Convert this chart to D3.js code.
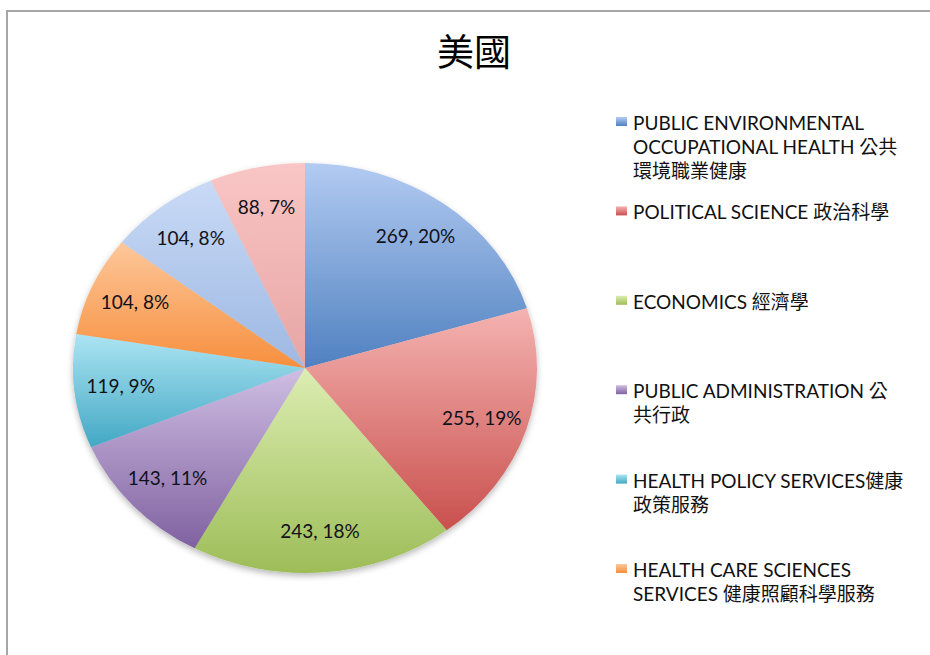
<!DOCTYPE html>
<html>
<head>
<meta charset="utf-8">
<script src="https://cdn.jsdelivr.net/npm/d3@7/dist/d3.min.js"></script>
<style>
  body { margin: 0; background: #fff; }
  text { font-family: Lato, "Noto Sans CJK TC", sans-serif; }
</style>
</head>
<body>
<svg id="chart" width="930" height="655"></svg>
<script>
// data
var title = "美國";
var values = [269, 255, 243, 143, 119, 104, 104, 88];
var topColors    = ["#b3cbf2", "#f4b3b1", "#dcedb2", "#cfbee3", "#ace4f3", "#fdc79a", "#c9daf6", "#f9c6c5"];
var bottomColors = ["#4f81c0", "#c9504d", "#9dbd58", "#7f61a0", "#43a8c4", "#f78f3e", "#9db8e2", "#e6a5a4"];
// only the first six entries fit in the legend of the original
var legendLines = [
  ["PUBLIC ENVIRONMENTAL", "OCCUPATIONAL HEALTH  公共", "環境職業健康"],
  ["POLITICAL SCIENCE 政治科學"],
  ["ECONOMICS 經濟學"],
  ["PUBLIC ADMINISTRATION 公", "共行政"],
  ["HEALTH POLICY SERVICES健康", "政策服務"],
  ["HEALTH CARE SCIENCES", "SERVICES 健康照顧科學服務"]
];

var svg = d3.select("#chart");

// frame (only top and left edges are visible in the original crop)
svg.append("rect")
  .attr("x", 7).attr("y", 11)
  .attr("width", 1000).attr("height", 1000)
  .attr("fill", "none")
  .attr("stroke", "#a6a6a6")
  .attr("stroke-width", 2);

svg.append("text")
  .attr("x", 474).attr("y", 66)
  .attr("text-anchor", "middle")
  .style("font-family", "'Noto Sans CJK TC', sans-serif")
  .style("font-size", "37px")
  .attr("fill", "#000")
  .text(title);

var defs = svg.append("defs");
values.forEach(function(v, i) {
  var g = defs.append("linearGradient")
    .attr("id", "grad" + i)
    .attr("x1", 0).attr("y1", 0).attr("x2", 0).attr("y2", 1);
  g.append("stop").attr("offset", "0%").attr("stop-color", topColors[i]);
  g.append("stop").attr("offset", "100%").attr("stop-color", bottomColors[i]);
});

var shadow = defs.append("filter").attr("id", "shadow")
  .attr("x", "-10%").attr("y", "-10%").attr("width", "120%").attr("height", "125%");
shadow.append("feDropShadow")
  .attr("dx", 0).attr("dy", 3).attr("stdDeviation", 3)
  .attr("flood-color", "#000").attr("flood-opacity", 0.28);

// pie is an ellipse in the original: draw a circle and stretch it in x
var cx = 305, cy = 368, rx = 232, ry = 205;
var sx = rx / ry;

var pie = d3.pie().sort(null).value(function(d) { return d; });
var arcs = pie(values);
var total = d3.sum(values);

var arc = d3.arc().innerRadius(0).outerRadius(ry);
var labelArc = d3.arc().innerRadius(ry * 0.8).outerRadius(ry * 0.8);

var pieG = svg.append("g")
  .attr("transform", "translate(" + cx + "," + cy + ") scale(" + sx + ",1)")
  .attr("filter", "url(#shadow)");

pieG.selectAll("path")
  .data(arcs).enter()
  .append("path")
  .attr("d", arc)
  .attr("fill", function(d, i) { return "url(#grad" + i + ")"; });

svg.append("g").selectAll("text")
  .data(arcs).enter()
  .append("text")
  .attr("x", function(d) { return cx + labelArc.centroid(d)[0] * sx; })
  .attr("y", function(d) { return cy + labelArc.centroid(d)[1]; })
  .attr("dy", "0.35em")
  .attr("text-anchor", "middle")
  .style("font-size", "19px")
  .attr("fill", "#111118")
  .text(function(d) { return d.value + ", " + Math.round(d.value / total * 100) + "%"; });

// legend
var legend = svg.append("g");
var item = legend.selectAll("g")
  .data(legendLines).enter()
  .append("g")
  .attr("transform", function(d, i) { return "translate(616," + (130 + i * 89.4) + ")"; });

item.append("rect")
  .attr("x", 0).attr("y", -13)
  .attr("width", 11).attr("height", 9)
  .attr("fill", function(d, i) { return "url(#grad" + i + ")"; });

item.selectAll("text")
  .data(function(d) { return d; }).enter()
  .append("text")
  .attr("x", 17)
  .attr("y", function(d, j) { return j * 24; })
  .style("font-size", "19px")
  .attr("fill", "#111")
  .text(function(d) { return d; });
</script>
</body>
</html>
